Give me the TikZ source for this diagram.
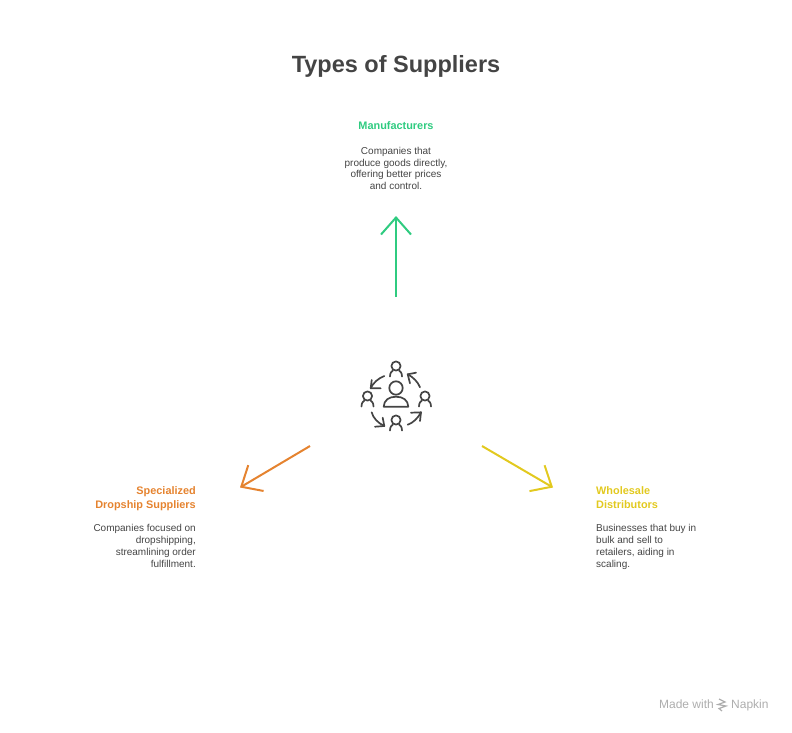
\documentclass[tikz,border=0pt]{standalone}
\usepackage{fontspec}
\setmainfont{Liberation Sans}
\usetikzlibrary{arrows.meta, positioning}
\definecolor{ink}{HTML}{444444}
\definecolor{mangreen}{HTML}{2FCB80}
\definecolor{droporange}{HTML}{E5832F}
\definecolor{saleyellow}{HTML}{E2C91F}
\tikzset{
	heading/.style={font=\fontsize{10.9}{14}\selectfont\bfseries, inner sep=0pt},
	blurb/.style={font=\fontsize{10}{11.9}\selectfont, text=ink, inner sep=0pt},
	bigarrow/.style={line width=2pt, -{Straight Barb[length=17pt, width=30pt, line width=2pt]}},
	iconline/.style={ink, line width=1.7pt, line cap=round, line join=round},
	pics/person/.style={code={
		\draw[iconline] (0,0) circle (4.6);
		\draw[iconline] (-6,10.5) .. controls (-6,6.5) and (-4,5) .. (-3,4.5);
		\draw[iconline] (6,10.5) .. controls (6,6.5) and (4,5) .. (3,4.5);
	}}
}
\begin{document}
\begin{tikzpicture}[x=1pt,y=-1pt]
	\useasboundingbox (0,0) rectangle (792,732);
	\node[font=\fontsize{23.5}{28}\selectfont\bfseries, text=ink, inner sep=0pt] (title) at (396,66.5) {Types of Suppliers};

	% top
	\node[heading, text=mangreen] (man) at (396,126) {Manufacturers};
	\node[blurb, align=center, below=16.5pt of man] (manText) {Companies that\\produce goods directly,\\offering better prices\\and control.};

	% left
	\node[heading, text=droporange, align=right, anchor=north east] (drop) at (196,486) {Specialized\\Dropship Suppliers};
	\node[blurb, align=right, below left=13.5pt and 0pt of drop.south east] (dropText) {Companies focused on\\dropshipping,\\streamlining order\\fulfillment.};

	% right
	\node[heading, text=saleyellow, align=left, anchor=north west] (sale) at (596,486) {Wholesale\\Distributors};
	\node[blurb, align=left, below right=16pt and 0pt of sale.south west] (saleText) {Businesses that buy in\\bulk and sell to\\retailers, aiding in\\scaling.};

	% arrows
	\coordinate (manTail) at (396,297);
	\coordinate (manTip) at (396,216);
	\coordinate (dropTail) at (310,446);
	\coordinate (dropTip) at (240,487.5);
	\coordinate (saleTail) at (482,446);
	\coordinate (saleTip) at (553,487.5);
	\draw[bigarrow, mangreen] (manTail) -- (manTip);
	\draw[bigarrow, droporange] (dropTail) -- (dropTip);
	\draw[bigarrow, saleyellow] (saleTail) -- (saleTip);

	% icon
	\pic at (396,366) {person};
	\pic at (367.5,396) {person};
	\pic at (425,396) {person};
	\pic at (396,420) {person};
	\draw[iconline] (396,388) circle (6.7);
	\draw[iconline] (383.7,406.7) -- (408.3,406.7) .. controls (408,400) and (403,396.7) .. (396,396.7) .. controls (389,396.7) and (384,400) .. (383.7,406.7) -- cycle;
	\draw[iconline] (384.3,376) .. controls (378,378.5) and (373,383) .. (370.7,388.3);
	\draw[iconline] (371.7,380) -- (370.7,388.3) -- (380.7,388.3);
	\draw[iconline] (371.7,412.3) .. controls (373,418) and (378,423) .. (384.3,426);
	\draw[iconline] (382.7,417.7) -- (384.3,426) -- (375,426.7);
	\draw[iconline] (407.7,424.7) .. controls (413,423) and (418,418) .. (421,412.3);
	\draw[iconline] (411,412.7) -- (421,412.3) -- (420,421);
	\draw[iconline] (420,387.3) .. controls (418,382) and (413,377) .. (407.7,374.3);
	\draw[iconline] (416,372.7) -- (407.7,374.3) -- (410,383.3);

	% footer
	\node[font=\fontsize{12}{14}\selectfont, text=black!32, anchor=base east, inner sep=0pt] (made) at (714,708.5) {Made with};
	\node[font=\fontsize{12}{14}\selectfont, text=black!32, anchor=base west, inner sep=0pt] (napkin) at (731,708.5) {Napkin};
	\draw[black!32, line width=1.2pt] (719,699) -- (725,702) -- (718,704.5) -- (726,706) -- (719,708.5) -- (722,711);
\end{tikzpicture}
\end{document}
